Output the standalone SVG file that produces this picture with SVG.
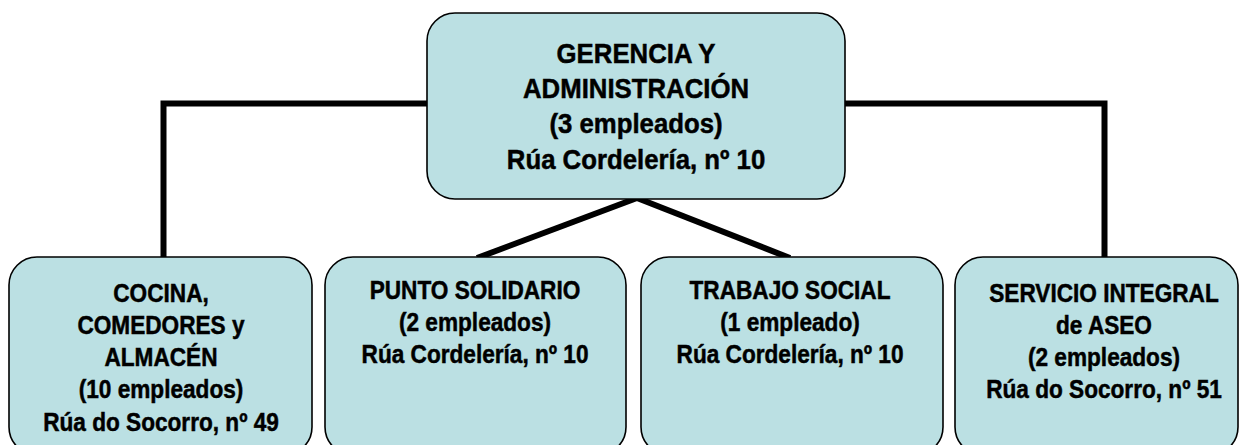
<svg xmlns="http://www.w3.org/2000/svg" width="1244" height="445" viewBox="0 0 1244 445">
<style>
.box{fill:#BBE0E3;stroke:#000;stroke-width:1.6}
.con{fill:none;stroke:#000;stroke-width:6;stroke-linejoin:miter}
.t{font-family:"Liberation Sans",Arial,sans-serif;font-weight:bold;fill:#000;stroke:#000;stroke-width:0.5;text-anchor:middle}
.big{font-size:28px}
.sm{font-size:26px}
</style>
<rect width="1244" height="445" fill="#fff"/>
<g id="connectors">
<path class="con" d="M427,103.5 H163.5 V258"/>
<path class="con" d="M845,103.5 H1104.5 V258"/>
<path class="con" d="M637,198 L477,258"/>
<path class="con" d="M637,198 L790,258"/>
</g>
<g id="gerencia">
<rect class="box" x="427" y="13" width="418" height="186" rx="28"/>
<g transform="translate(636,0) scale(0.92,1)">
<text class="t big" x="0" y="63">GERENCIA Y</text>
<text class="t big" x="0" y="98">ADMINISTRACIÓN</text>
<text class="t big" x="0" y="133">(3 empleados)</text>
<text class="t big" x="0" y="169">Rúa Cordelería, nº 10</text>
</g>
</g>
<g id="cocina">
<rect class="box" x="9" y="257" width="303" height="198" rx="28"/>
<g transform="translate(161,0) scale(0.87,1)">
<text class="t sm" x="0" y="302">COCINA,</text>
<text class="t sm" x="0" y="334">COMEDORES y</text>
<text class="t sm" x="0" y="366">ALMACÉN</text>
<text class="t sm" x="0" y="398">(10 empleados)</text>
<text class="t sm" x="0" y="431">Rúa do Socorro, nº 49</text>
</g>
</g>
<g id="punto">
<rect class="box" x="325" y="257" width="301" height="198" rx="28"/>
<g transform="translate(475,0) scale(0.87,1)">
<text class="t sm" x="0" y="299">PUNTO SOLIDARIO</text>
<text class="t sm" x="0" y="331">(2 empleados)</text>
<text class="t sm" x="0" y="363">Rúa Cordelería, nº 10</text>
</g>
</g>
<g id="trabajo">
<rect class="box" x="641" y="257" width="302" height="198" rx="28"/>
<g transform="translate(790,0) scale(0.87,1)">
<text class="t sm" x="0" y="299">TRABAJO SOCIAL</text>
<text class="t sm" x="0" y="331">(1 empleado)</text>
<text class="t sm" x="0" y="363">Rúa Cordelería, nº 10</text>
</g>
</g>
<g id="servicio">
<rect class="box" x="955" y="257" width="283" height="198" rx="28"/>
<g transform="translate(1104,0) scale(0.87,1)">
<text class="t sm" x="0" y="302">SERVICIO INTEGRAL</text>
<text class="t sm" x="0" y="334">de ASEO</text>
<text class="t sm" x="0" y="366">(2 empleados)</text>
<text class="t sm" x="0" y="398">Rúa do Socorro, nº 51</text>
</g>
</g>
</svg>
